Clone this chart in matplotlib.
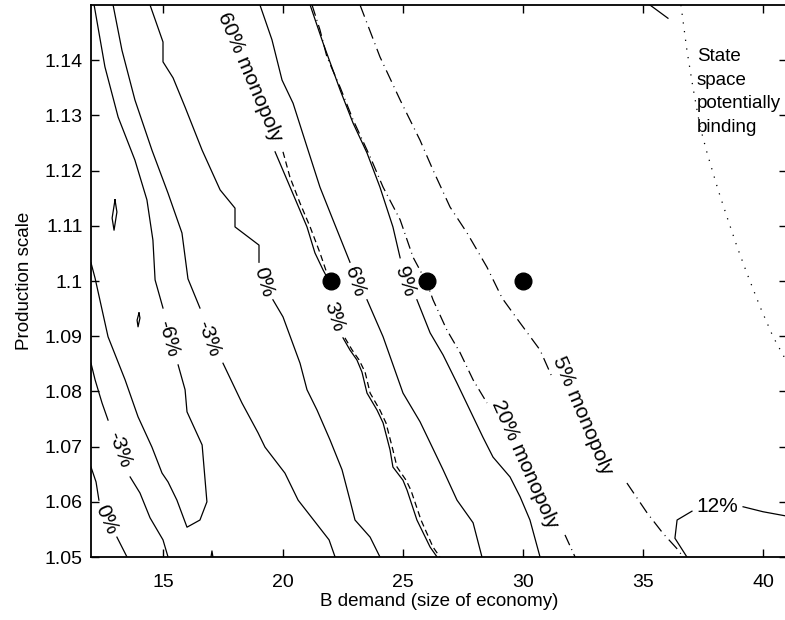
import numpy as np
import matplotlib
matplotlib.use('Agg')
import matplotlib.pyplot as plt
from matplotlib.ticker import FuncFormatter

nan = np.nan

# contour lines (nan = gap left for the inline label)
neg6_x = [12.0, 12.17, 12.71, 13.42, 13.96, 14.54, 14.96, 15.21, 15.58, 16.0, 16.54, 16.83, 16.63, 16.0, 15.92, 15.63,
          nan, 15.0, 14.67, 14.58, 14.33, 13.83, 13.13, 12.58, 12.13]
neg6_y = [1.1033, 1.1005, 1.0899, 1.0821, 1.0754, 1.0699, 1.0652, 1.0636, 1.0603, 1.0554, 1.0567, 1.0600, 1.0703, 1.0763, 1.0803, 1.0848,
          nan, 1.0951, 1.1002, 1.1074, 1.1147, 1.1219, 1.1297, 1.1388, 1.15]

neg3_right_x = [12.92, 13.29, 13.83, 14.54, 15.21, 15.79, 16.04, 16.54, nan, 17.5, 18.29, 18.96, 19.25, 20.08, 20.63, 21.92, 22.17]
neg3_right_y = [1.15, 1.1418, 1.1328, 1.1237, 1.1159, 1.1087, 1.1004, 1.0951, nan, 1.0851, 1.0779, 1.0725, 1.0699, 1.0652, 1.0603, 1.0531, 1.05]

neg3_left_x = [12.0, 12.17, 12.46, 12.71, nan, 13.63, 14.04, 14.46, 15.0, 15.21]
neg3_left_y = [1.0851, 1.0821, 1.0779, 1.0748, nan, 1.0645, 1.0616, 1.0571, 1.0531, 1.05]

zero_left_x = [12.0, 12.21, 12.33, nan, 13.08, 13.5]
zero_left_y = [1.0663, 1.0636, 1.0603, nan, 1.0536, 1.05]

zero_x = [14.46, 15.0, 15.0, 15.42, 15.92, 16.63, 17.38, 18.0, 18.0, 19.0, 19.0, nan,
          19.58, 20.0, 20.71, 21.0, 21.42, 21.96, 22.46, 22.79, 23.0, 23.63, 24.04]
zero_y = [1.15, 1.1433, 1.1397, 1.1368, 1.1315, 1.1237, 1.1165, 1.1132, 1.1098, 1.1065, 1.1034, nan,
          1.0966, 1.0935, 1.0851, 1.0803, 1.0766, 1.0712, 1.0658, 1.0603, 1.0567, 1.0536, 1.05]

pos3_x = [19.67, 20.17, 20.58, 21.0, 21.33, 21.67, 22.0, nan,
          22.5, 22.79, 23.08, 23.29, 23.5, 23.92, 24.17, 24.46, 24.58, 25.0, 25.17, 25.58, 26.13, 26.42]
pos3_y = [1.1234, 1.1183, 1.1141, 1.1098, 1.1051, 1.1020, 1.0993, nan,
          1.0897, 1.0875, 1.0857, 1.0835, 1.0797, 1.0766, 1.0743, 1.0694, 1.0663, 1.0639, 1.0621, 1.0567, 1.0518, 1.05]

pos6_x = [19.04, 19.54, 19.96, 20.42, 21.0, 21.54, 22.08, 22.79, nan, 23.5, 24.17, 25.0, 25.71, 26.13, 26.67, 27.25, 27.92, 28.29]
pos6_y = [1.15, 1.1437, 1.1364, 1.1322, 1.1243, 1.1170, 1.1111, 1.1034, nan, 1.0966, 1.0899, 1.0797, 1.0745, 1.0707, 1.0658, 1.0603, 1.0562, 1.05]

pos9_x = [21.13, 21.67, 22.08, 22.38, 22.92, 23.5, 24.04, 24.58, 24.88, nan,
          25.58, 26.13, 26.67, 27.25, 27.79, 28.33, 28.75, 29.46, 29.88, 30.29, 30.71]
pos9_y = [1.15, 1.1431, 1.1382, 1.1346, 1.1286, 1.1232, 1.1170, 1.1098, 1.1042, nan,
          1.0966, 1.0906, 1.0866, 1.0815, 1.0766, 1.0717, 1.0681, 1.0645, 1.0609, 1.0567, 1.05]

pos12_x = [36.83, 36.33, 36.42, 37.04, nan, 39.17, 40.0, 41.0]
pos12_y = [1.05, 1.0534, 1.0567, 1.0583, nan, 1.0591, 1.0582, 1.0574]

corner_x = [35.29, 36.04]
corner_y = [1.15, 1.1476]

loop1_x = [13.0, 13.08, 12.96, 12.88, 13.0]
loop1_y = [1.1147, 1.1125, 1.1092, 1.1114, 1.1147]
loop2_x = [14.0, 14.04, 13.96, 13.92, 14.0]
loop2_y = [1.0942, 1.0933, 1.0917, 1.0929, 1.0942]
spike_x = [17.0, 17.04, 17.08]
spike_y = [1.05, 1.0511, 1.05]

# monopoly share lines
m60_x = [20.0, 20.29, 20.71, 21.13, 21.54, 21.83, 22.0, nan,
         22.58, 22.88, 23.17, 23.42, 23.63, 24.04, 24.29, 24.58, 24.75, 25.13, 25.33, 25.75, 26.25, 26.54]
m60_y = [1.1234, 1.1188, 1.1141, 1.1098, 1.1051, 1.1014, 1.0996, nan,
         1.0897, 1.0875, 1.0857, 1.0835, 1.0797, 1.0766, 1.0743, 1.0694, 1.0663, 1.0639, 1.0621, 1.0567, 1.0518, 1.05]

m20_x = [21.21, 21.54, 21.83, 22.38, 22.92, 23.63, 24.17, 24.88, 25.42, 26.0, 26.25, 26.83, 27.38, 27.92, 28.5, nan, 31.75, 32.17]
m20_y = [1.15, 1.1455, 1.1406, 1.1351, 1.1292, 1.1225, 1.1170, 1.1111, 1.1043, 1.0996, 1.0966, 1.0911, 1.0870, 1.0821, 1.0779, nan, 1.0540, 1.05]

m5_x = [23.21, 24.04, 24.88, 25.71, 26.25, 26.96, 27.67, 28.5, 29.13, 29.88, 30.71, 31.21, nan, 34.33, 35.17, 35.83, 36.46, 36.67]
m5_y = [1.15, 1.1406, 1.1328, 1.1255, 1.1201, 1.1134, 1.1087, 1.1025, 1.0969, 1.0924, 1.0875, 1.0826, nan, 1.0634, 1.0580, 1.0543, 1.0513, 1.05]

state_x = [36.58, 36.83, 37.08, 37.38, 37.67, 38.13, 38.5, 38.92, 39.33, 39.88, 40.42, 41.0]
state_y = [1.15, 1.1418, 1.1351, 1.1279, 1.1232, 1.1165, 1.1116, 1.1062, 1.1014, 1.0953, 1.0899, 1.0853]

dot_x = [22, 26, 30]
dot_y = [1.1, 1.1, 1.1]

label_text = ['60% monopoly', '0%', '6%', '9%', '3%', '-6%', '-3%', '-3%', '0%', '20% monopoly', '5% monopoly', '12%']
label_x = [18.63, 19.2, 23.0, 25.08, 22.13, 15.21, 16.92, 13.21, 12.63, 30.08, 32.46, 38.08]
label_y = [1.137, 1.0998, 1.0998, 1.0998, 1.0935, 1.0895, 1.0895, 1.0694, 1.0567, 1.0667, 1.0757, 1.0591]
label_rot = [-67, -74, -72, -72, -72, -75, -70, -70, -66, -66, -67, 0]

plt.rcParams['font.family'] = ['Liberation Sans', 'DejaVu Sans']

fig = plt.figure(figsize=(7.85, 6.2), dpi=100)
ax = fig.add_axes([91/785, 63/620, 696/785, 552/620])

lw = 0.9
for xs, ys in [(neg6_x, neg6_y), (neg3_right_x, neg3_right_y), (neg3_left_x, neg3_left_y),
               (zero_left_x, zero_left_y), (zero_x, zero_y), (pos3_x, pos3_y), (pos6_x, pos6_y),
               (pos9_x, pos9_y), (pos12_x, pos12_y), (corner_x, corner_y), (loop1_x, loop1_y),
               (loop2_x, loop2_y), (spike_x, spike_y)]:
    ax.plot(xs, ys, color='black', lw=lw)

ax.plot(m60_x, m60_y, color='black', lw=lw, linestyle=(0, (5, 3)))
ax.plot(m20_x, m20_y, color='black', lw=lw, linestyle=(0, (9, 3.5, 0.8, 3.5)))
ax.plot(m5_x, m5_y, color='black', lw=lw, linestyle=(0, (10, 4, 0.8, 4)))
ax.plot(state_x, state_y, color='black', lw=lw, linestyle=(0, (1, 6)))

ax.plot(dot_x, dot_y, 'o', color='black', markersize=12, zorder=5)

for t, x, y, r in zip(label_text, label_x, label_y, label_rot):
    ax.text(x, y, t, rotation=r, rotation_mode='anchor', ha='center', va='center', fontsize=15)

ax.text(37.25, 1.1422, 'State\nspace\npotentially\nbinding', ha='left', va='top', fontsize=13.5, linespacing=1.5)

ax.set_xlim(12, 41)
ax.set_ylim(1.05, 1.15)
ax.set_xticks([15, 20, 25, 30, 35, 40])
ax.set_yticks(np.arange(1.05, 1.1401, 0.01))
ax.yaxis.set_major_formatter(FuncFormatter(lambda v, p: '%g' % round(v, 2)))
ax.tick_params(direction='in', length=6, width=1, top=True, right=True, labelsize=14)
ax.tick_params(axis='x', pad=12)
ax.tick_params(axis='y', pad=6)
for s in ax.spines.values():
    s.set_linewidth(1.3)

ax.set_xlabel('B demand (size of economy)', fontsize=13.5, labelpad=2)
ax.set_ylabel('Production scale', fontsize=13.5, labelpad=8)

fig.savefig('out.png', dpi=100)
